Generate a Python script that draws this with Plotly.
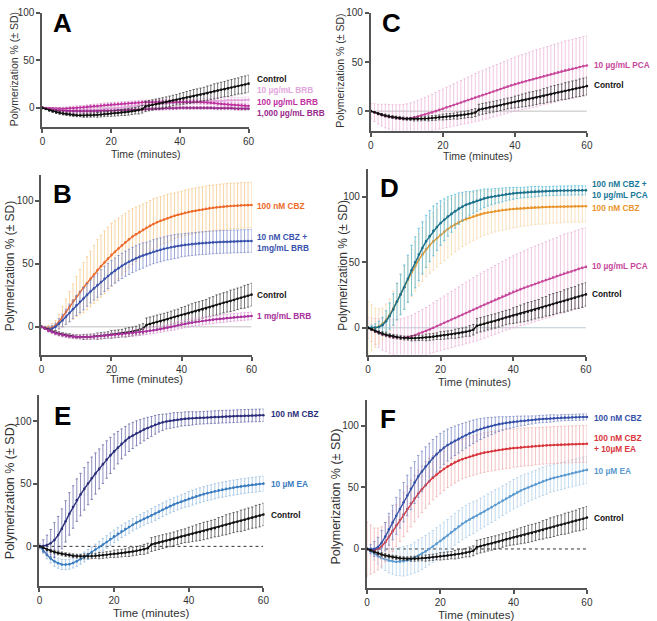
import plotly.graph_objects as go

W, H = 657, 621
FONT = "Arial, Liberation Sans, sans-serif"

# ---------------- data: one reading per minute, 0..60 ----------------
time_min = list(range(0, 61))

control = [0, -1.2, -2.5, -3.6, -4.5, -5.3, -6, -6.6, -7, -7.5,
           -7.8, -7.9, -8, -7.9, -7.8, -7.6, -7.4, -7.1, -6.8, -6.4,
           -6, -5.7, -5.4, -5, -4.6, -4.1, -3.6, -3, -2.4, -1.5,
           1.5, 2.3, 3, 3.8, 4.5, 5.2, 6, 6.9, 7.8, 8.5,
           9.3, 10, 10.8, 11.5, 12.3, 13, 13.8, 14.6, 15.5, 16.4,
           17.3, 18.1, 19, 19.7, 20.5, 21.3, 22.2, 23, 23.8, 24.6,
           25.5]
control_sd = [0, 0.5, 1, 1.2, 1.5, 1.5, 1.5, 1.5, 1.5, 1.5,
              1.5, 1.5, 2, 2, 2, 2, 2.5, 2.5, 2.5, 2.5,
              3, 3, 3, 3, 3.5, 3.5, 3.5, 3.5, 4, 4,
              5.5, 5.5, 5.5, 5.5, 5.5, 5.5, 5.5, 5.5, 5.5, 5.5,
              6, 6.2, 6.5, 6.8, 7, 7, 7, 7, 7.5, 7.5,
              8, 8, 8, 8, 8.5, 8.5, 8.5, 8.5, 9, 9,
              9]

# Panel A (berberine)
brb10 = [0, -0.5, -1, -1.5, -2, -2.3, -2.5, -2.8, -3, -3,
         -3, -3, -3, -2.8, -2.5, -2.3, -2, -1.8, -1.5, -1.3,
         -1, -0.5, 0, 0.5, 1, 1.5, 2, 2.3, 2.5, 2.8,
         3, 3.3, 3.5, 3.8, 4, 4.3, 4.5, 4.8, 5, 5.3,
         5.5, 5.8, 6, 6.3, 6.5, 6.8, 7, 7, 7, 7.3,
         7.5, 7.5, 7.5, 7.8, 8, 8, 8, 8, 8, 8.3,
         8.5]
brb10_sd = [0, 0.5, 1, 1.3, 1.5, 1.8, 2, 2, 2, 2.3,
            2.5, 2.5, 2.5, 2.5, 2.5, 2.8, 3, 3, 3, 3,
            3, 3, 3, 3, 3, 3, 3, 3, 3, 3,
            3, 3, 3, 3, 3, 3, 3, 3, 3, 3,
            3, 3, 3, 3, 3, 3, 3, 3, 3, 3,
            3, 3, 3, 3, 3, 3, 3, 3, 3, 3,
            3]
brb100 = [0, -0.3, -0.5, -0.8, -1, -1, -1, -0.8, -0.5, -0.3,
          0, 0.3, 0.5, 1, 1.5, 1.8, 2, 2.5, 3, 3.3,
          3.5, 3.8, 4, 4.3, 4.5, 4.8, 5, 5.3, 5.5, 5.8,
          6, 6, 6, 6.3, 6.5, 6.5, 6.5, 6.5, 6.5, 6.5,
          6.5, 6.5, 6.5, 6.5, 6.5, 6.3, 6, 5.8, 5.5, 5.3,
          5, 4.5, 4, 3.8, 3.5, 3.3, 3, 2.8, 2.5, 2.3,
          2]
brb100_sd = [0, 0.5, 1, 1.3, 1.5, 1.5, 1.5, 1.8, 2, 2,
             2, 2, 2, 2, 2, 2, 2, 2, 2, 2,
             2, 2, 2, 2, 2, 2, 2, 2, 2, 2,
             2, 2, 2, 2, 2, 2, 2, 2, 2, 2,
             2, 2, 2, 2, 2, 2, 2, 2, 2, 2,
             2, 2, 2, 2, 2, 2, 2, 2, 2, 2,
             2]
brb1000 = [0, -0.8, -1.5, -2, -2.5, -2.8, -3, -3.3, -3.5, -3.5,
           -3.5, -3.5, -3.5, -3.5, -3.5, -3.5, -3.5, -3.3, -3, -3,
           -3, -2.8, -2.5, -2.5, -2.5, -2.3, -2, -2, -2, -1.8,
           -1.5, -1.3, -1, -1, -1, -0.8, -0.5, -0.5, -0.5, -0.3,
           0, 0, 0, 0, 0, 0, 0, 0, 0, 0,
           -0.3, -0.5, -0.5, -0.5, -0.5, -0.5, -0.8, -1, -1, -1,
           -1]
brb1000_sd = [0, 0.5, 1, 1.3, 1.5, 1.5, 1.5, 1.5, 1.5, 1.5,
              1.5, 1.5, 1.5, 1.5, 1.5, 1.5, 1.5, 1.5, 1.5, 1.5,
              1.5, 1.5, 1.5, 1.5, 1.5, 1.5, 1.5, 1.5, 1.5, 1.5,
              1.5, 1.5, 1.5, 1.5, 1.5, 1.5, 1.5, 1.5, 1.5, 1.5,
              1.5, 1.5, 1.5, 1.5, 1.5, 1.5, 1.5, 1.5, 1.5, 1.5,
              1.5, 1.5, 1.5, 1.5, 1.5, 1.5, 1.5, 1.5, 1.5, 1.5,
              1.5]

# Panel B
cbz100_b = [0, -0.5, -1, -0.5, 1, 4, 8, 12, 16, 20,
            24, 27.5, 31, 34.5, 38, 41.5, 45, 48, 51, 54,
            57, 59.5, 62, 64.5, 67, 69.3, 71.5, 73.3, 75, 76.8,
            78.5, 80, 81.5, 82.8, 84, 85, 86, 87, 88, 88.8,
            89.5, 90.3, 91, 91.5, 92, 92.5, 93, 93.5, 94, 94.3,
            94.6, 94.9, 95.2, 95.5, 95.7, 95.9, 96, 96.2, 96.3, 96.4,
            96.5]
cbz100_b_sd = [0, 1, 2, 3, 4, 6, 8, 10, 12, 14,
               16, 18, 20, 21, 22, 23, 24, 24.5, 25, 25,
               25, 24.5, 24, 23.5, 23, 22.5, 22, 21.5, 21, 20.5,
               20, 20, 20, 19.5, 19, 19, 19, 18.5, 18, 18,
               18, 18, 18, 18, 18, 18, 18, 18, 18, 18,
               18, 18, 18, 18, 18, 18, 18, 18, 18, 18,
               18]
cbz10_brb = [0, -1, -2, -1.5, 0, 2.5, 5, 8, 11, 14,
             17, 19.8, 22.5, 25.3, 28, 30.5, 33, 35.5, 38, 40.3,
             42.5, 44.5, 46.5, 48.3, 50, 51.5, 53, 54.3, 55.5, 56.5,
             57.5, 58.5, 59.5, 60.3, 61, 61.8, 62.5, 63, 63.5, 64,
             64.5, 64.9, 65.2, 65.5, 65.8, 66.1, 66.3, 66.5, 66.7, 66.9,
             67, 67.2, 67.3, 67.4, 67.5, 67.6, 67.7, 67.8, 67.9, 68,
             68]
cbz10_brb_sd = [0, 1, 2, 2.5, 3, 4, 5, 6, 7, 7.5,
                8, 8.5, 9, 9, 9, 9.3, 9.5, 9.8, 10, 10,
                10, 10, 10, 10, 10, 10, 10, 10, 10, 10,
                9.5, 9.5, 9.5, 9.5, 9.5, 9.5, 9.5, 9.5, 9.5, 9.5,
                9, 9, 9, 9, 9, 9, 9, 9, 9, 9,
                9, 9, 9, 9, 9, 9, 9, 9, 9, 9,
                9]
brb1mg = [0, -1.5, -3, -4, -5, -5.8, -6.5, -7, -7.5, -7.8,
          -8, -8, -8, -8, -8, -7.8, -7.5, -7.3, -7, -6.8,
          -6.5, -6.3, -6, -5.8, -5.5, -5.3, -5, -4.7, -4.3, -4,
          -3.6, -3.2, -2.8, -2.3, -1.8, -1.3, -0.8, -0.2, 0.5, 1.2,
          1.8, 2.3, 2.8, 3.3, 3.8, 4.2, 4.6, 5, 5.3, 5.7,
          6, 6.3, 6.6, 6.9, 7.2, 7.5, 7.7, 8, 8.2, 8.4,
          8.6]
brb1mg_sd = [0, 0.5, 1, 1.3, 1.5, 1.5, 1.5, 1.5, 1.5, 1.5,
             1.5, 1.5, 1.5, 1.8, 2, 2, 2, 2, 2, 2,
             2, 2, 2, 2, 2, 2, 2.5, 2.5, 2.5, 2.5,
             2.5, 2.5, 2.5, 2.5, 2.5, 2.5, 2.5, 2.8, 3, 3,
             3, 3, 3, 3, 3, 3, 3, 3, 3, 3,
             3, 3, 3, 3, 3, 3, 3, 3, 3, 3,
             3]

# Panels C / D
pca10 = [0, -1.5, -3, -4, -5, -5.8, -6.5, -7, -7.5, -7.6,
         -7.5, -7.1, -6.5, -5.5, -4.5, -3.5, -2.5, -1.3, 0, 1.3,
         2.5, 3.8, 5, 6.3, 7.5, 8.8, 10, 11.3, 12.5, 13.8,
         15, 16.3, 17.5, 18.8, 20, 21.3, 22.5, 23.8, 25, 26.3,
         27.5, 28.5, 29.5, 30.5, 31.5, 32.5, 33.5, 34.5, 35.5, 36.5,
         37.5, 38.5, 39.5, 40.5, 41.5, 42.3, 43, 44, 45, 45.8,
         46.5]
pca10_sd = [8, 9, 10, 11, 12, 12.5, 13, 13.5, 14, 14.5,
            15, 15.5, 16, 16.5, 17, 17.5, 18, 18.5, 19, 19.5,
            20, 20.5, 21, 21.5, 22, 22.5, 23, 23.5, 24, 24.5,
            25, 25.3, 25.5, 25.8, 26, 26.3, 26.5, 26.8, 27, 27.3,
            27.5, 27.8, 28, 28.3, 28.5, 28.8, 29, 29, 29, 29.3,
            29.5, 29.5, 29.5, 29.8, 30, 30, 30, 30, 30, 30,
            30]
cbz100_d = [0, 0, 0, 1, 3, 6, 10, 15, 20, 25.5,
            31, 36.5, 42, 47, 52, 56, 60, 63, 66, 68.5,
            71, 73.3, 75.5, 77.3, 79, 80.5, 82, 83, 84, 85,
            86, 86.8, 87.5, 88, 88.5, 89, 89.5, 89.9, 90.2, 90.5,
            90.8, 91, 91.2, 91.4, 91.6, 91.8, 92, 92.1, 92.2, 92.3,
            92.4, 92.5, 92.5, 92.6, 92.6, 92.7, 92.7, 92.8, 92.8, 92.8,
            92.8]
cbz100_d_sd = [20, 17.5, 15, 13.5, 12, 12, 12, 13, 14, 15,
               16, 17, 18, 19, 20, 20.5, 21, 21.5, 22, 22,
               22, 22, 22, 21.5, 21, 20.5, 20, 19.5, 19, 18.5,
               18, 17.5, 17, 16.5, 16, 15.8, 15.5, 15.3, 15, 14.8,
               14.5, 14.3, 14, 13.8, 13.5, 13.3, 13, 13, 13, 13,
               12.5, 12.5, 12.5, 12.5, 12, 12, 12, 12, 12, 12,
               12]
cbz_pca = [0, 0, 0, 0.5, 2, 5, 9, 14, 20, 25.5,
           31, 37.5, 44, 50, 56, 61, 66, 70, 74, 77,
           80, 82.5, 85, 87, 89, 91, 92.5, 94, 95, 96,
           97, 98, 99, 99.5, 100, 100.5, 101, 101.5, 102, 102.4,
           102.7, 103, 103.2, 103.4, 103.6, 103.8, 104, 104.2, 104.3, 104.4,
           104.5, 104.6, 104.7, 104.8, 104.8, 104.9, 104.9, 105, 105, 105,
           105]
cbz_pca_sd = [1, 2, 3, 4.5, 6, 8, 10, 12, 14, 15.5,
              17, 18, 19, 19.5, 20, 20, 20, 19.5, 19, 18,
              17, 16, 15, 14, 13, 12, 11, 10, 9, 8.5,
              8, 7.5, 7, 6.5, 6, 5.8, 5.5, 5.3, 5, 4.8,
              4.5, 4.3, 4, 4, 4, 4, 4, 3.8, 3.5, 3.5,
              3.5, 3.5, 3.5, 3.5, 3.5, 3.5, 3.5, 3.5, 3.5, 3.5,
              3.5]

# Panel E
cbz100_e = [0, 0.3, 1, 2.5, 5, 9, 14, 20, 26, 31.5,
            37, 41.5, 46, 50.3, 54.5, 58.3, 62, 65.8, 69.5, 72.8,
            76, 79, 82, 84.5, 87, 88.8, 90.5, 92, 93.5, 94.8,
            96, 97.3, 98.5, 99.3, 100, 100.5, 101, 101.4, 101.8, 102.1,
            102.3, 102.5, 102.7, 102.9, 103, 103.2, 103.3, 103.5, 103.6, 103.8,
            103.9, 104, 104.1, 104.3, 104.4, 104.5, 104.6, 104.7, 104.8, 104.9,
            105]
cbz100_e_sd = [2, 5, 8, 11, 14, 15, 16, 16.5, 17, 17,
               17, 17, 17, 17, 17, 16.5, 16, 15.5, 15, 14.5,
               14, 13, 12, 11.5, 11, 10.5, 10, 9.5, 9, 8.5,
               8, 7.5, 7, 6.5, 6, 6, 6, 5.8, 5.5, 5.5,
               5.5, 5.3, 5, 5, 5, 5, 5, 5, 5, 5,
               5, 5, 5, 5, 5, 5, 5, 5, 5, 5,
               5]
ea10_e = [0, -3.5, -7, -9.8, -12, -13.5, -14.5, -14.6, -14.3, -13.3,
          -12, -10.3, -8.5, -6.5, -4.5, -2.5, -0.5, 1.5, 3.5, 5.8,
          8, 10, 12, 13.8, 15.5, 17.3, 19, 20.5, 22, 23.4,
          24.8, 26.3, 27.8, 29.3, 30.8, 32.2, 33.5, 34.7, 35.8, 36.9,
          38, 39, 40, 40.9, 41.8, 42.6, 43.3, 44.1, 44.8, 45.4,
          46, 46.5, 47, 47.5, 48, 48.4, 48.8, 49.2, 49.5, 49.9,
          50.2]
ea10_e_sd = [1, 2, 3, 3.5, 4, 4, 4, 4, 4, 4,
             4, 4, 4, 4, 4, 4.3, 4.5, 4.8, 5, 5,
             5, 5, 5, 5, 5, 5, 5, 5, 5, 5,
             5.5, 5.5, 5.5, 5.5, 5.5, 5.5, 5.5, 5.5, 5.5, 5.5,
             6, 6, 6, 6, 6, 6, 6, 6, 6, 6,
             6, 6, 6, 6, 6, 6, 6, 6, 6, 6,
             6]

# Panel F
cbz100_f = [0, 0, 0, 1.5, 5, 10, 16, 21.5, 27, 32.5,
            38, 43.5, 49, 54, 59, 63, 67, 70.5, 74, 77,
            80, 82.3, 84.5, 86.3, 88, 89.5, 91, 92.5, 94, 95.3,
            96.5, 97.5, 98.5, 99.3, 100, 100.8, 101.5, 102, 102.5, 102.9,
            103.3, 103.7, 104, 104.3, 104.6, 104.9, 105.2, 105.5, 105.7, 105.9,
            106.1, 106.3, 106.5, 106.7, 106.8, 106.9, 107, 107.1, 107.2, 107.3,
            107.3]
cbz100_f_sd = [1, 3.5, 6, 8, 10, 11.5, 13, 14, 15, 15.5,
               16, 16.5, 17, 17, 17, 16.5, 16, 15.5, 15, 14.5,
               14, 13.5, 13, 12.5, 12, 11.5, 11, 10.5, 10, 9.5,
               9, 8.5, 8, 7.5, 7, 6.5, 6, 5.5, 5, 4.8,
               4.5, 4.3, 4, 3.8, 3.5, 3.3, 3, 3, 3, 3,
               3, 2.8, 2.5, 2.5, 2.5, 2.5, 2.5, 2.5, 2.5, 2.5,
               2.5]
cbz_ea = [0, -0.5, -1, 0, 2, 5.5, 10, 14.5, 19, 23.5,
          28, 32.5, 37, 41, 45, 48.5, 52, 55, 58, 60.5,
          63, 65, 67, 68.8, 70.5, 71.8, 73, 74, 75, 75.9,
          76.8, 77.6, 78.3, 78.9, 79.5, 80, 80.5, 80.9, 81.3, 81.7,
          82, 82.3, 82.6, 82.9, 83.1, 83.4, 83.6, 83.8, 84, 84.2,
          84.3, 84.5, 84.6, 84.8, 84.9, 85, 85.1, 85.2, 85.3, 85.4,
          85.5]
cbz_ea_sd = [22, 20, 18, 17, 16, 16, 16, 16.5, 17, 17.5,
             18, 18.5, 19, 19, 19, 19, 19, 18.5, 18, 18,
             18, 17.5, 17, 17, 17, 16.5, 16, 16, 16, 16,
             16, 16, 16, 16, 16, 16, 16, 16, 16, 16,
             15.5, 15.5, 15.5, 15.5, 15.5, 15.5, 15, 15, 15, 15,
             15, 15, 15, 15, 15, 15, 15, 15, 15, 15,
             15]
ea10_f = [0, -2, -4, -5.8, -7.5, -8.5, -9.5, -10, -10.5, -10.3,
          -10, -9.3, -8.5, -7, -5.5, -3.8, -2, 0, 2, 4.3,
          6.5, 8.8, 11, 13.5, 16, 18.3, 20.5, 22.3, 24, 25.5,
          27, 28.8, 30.5, 32.3, 34, 35.8, 37.5, 39.3, 41, 42.8,
          44.5, 46, 47.5, 48.8, 50, 51.3, 52.5, 53.8, 55, 56,
          57, 57.8, 58.5, 59.3, 60, 60.8, 61.5, 62.3, 63, 63.7,
          64.3]
ea10_f_sd = [1, 3, 5, 6.5, 8, 9, 10, 10.5, 11, 11.5,
             12, 12, 12, 12.5, 13, 13, 13, 13, 13, 13,
             13, 13, 13, 13, 13, 13, 13, 13, 13, 13,
             12.5, 12.5, 12.5, 12.5, 12.5, 12.5, 12, 12, 12, 12,
             12, 12, 12, 12, 11.5, 11.5, 11.5, 11.5, 11.5, 11.5,
             11, 11, 11, 11, 11, 11, 11, 11, 11, 11,
             11]

x_ticks = [0, 20, 40, 60]
y_ticks = [0, 50, 100]

# ---------------- layout geometry (pixels) ----------------
panels = {
    "A": ("", 40, 249, 7, 122, [-20, 100]),
    "C": ("2", 373, 592, 7, 126, [-20, 100]),
    "B": ("3", 39, 252, 171, 352, [-22, 120]),
    "D": ("4", 370, 591, 165, 352, [-20.5, 121]),
    "E": ("5", 37, 264, 393, 586, [-32, 121]),
    "F": ("6", 369, 592, 398, 588, [-32, 121]),
}

fig = go.Figure()


def add_series(panel, y, sd, color, ecolor, msize=2.6, lw=1.4):
    suf = panels[panel][0]
    fig.add_trace(go.Scatter(
        x=time_min, y=y, mode="lines+markers",
        xaxis="x" + suf, yaxis="y" + suf,
        line=dict(color=color, width=lw),
        marker=dict(color=color, size=msize),
        error_y=dict(type="data", array=sd, color=ecolor, thickness=0.7, width=1.2),
        showlegend=False, hoverinfo="skip", cliponaxis=False,
    ))


CTRL, CTRL_E = "#111111", "#3a3a3a"

add_series("A", brb10, brb10_sd, "#e2a6dc", "#eec6ea")
add_series("A", brb100, brb100_sd, "#c0309f", "#d890cc")
add_series("A", brb1000, brb1000_sd, "#9a2a8c", "#c486bc")
add_series("A", control, control_sd, CTRL, CTRL_E)

add_series("C", pca10, pca10_sd, "#c8489c", "#eab0d8")
add_series("C", control, control_sd, CTRL, CTRL_E)

add_series("B", cbz100_b, cbz100_b_sd, "#ee6a2a", "#f6c47e")
add_series("B", cbz10_brb, cbz10_brb_sd, "#3a52ac", "#7282c8")
add_series("B", control, control_sd, CTRL, CTRL_E)
add_series("B", brb1mg, brb1mg_sd, "#a8309c", "#d890d0")

add_series("D", pca10, pca10_sd, "#c8489c", "#eab0d8")
add_series("D", cbz100_d, cbz100_d_sd, "#e8952c", "#f6d4a4")
add_series("D", cbz_pca, cbz_pca_sd, "#1a6f8a", "#48b4d4")
add_series("D", control, control_sd, CTRL, CTRL_E)

add_series("E", ea10_e, ea10_e_sd, "#3a7cc0", "#90b8e0")
add_series("E", cbz100_e, cbz100_e_sd, "#2b2d7a", "#5a5ca0")
add_series("E", control, control_sd, CTRL, CTRL_E)

add_series("F", ea10_f, ea10_f_sd, "#5a9ad0", "#aacce8")
add_series("F", cbz_ea, cbz_ea_sd, "#d8343c", "#eeaaaa")
add_series("F", cbz100_f, cbz100_f_sd, "#3450a8", "#7080c0")
add_series("F", control, control_sd, CTRL, CTRL_E)

layout = dict(
    width=W, height=H, margin=dict(l=0, r=0, t=0, b=0),
    paper_bgcolor="white", plot_bgcolor="white",
    font=dict(family=FONT, size=10, color="#333333"),
    showlegend=False,
)
axis_common = dict(showline=True, linecolor="#555555", linewidth=2, showgrid=False,
                   zeroline=False, ticks="outside", ticklen=4, tickwidth=1.5,
                   tickcolor="#555555", tickfont=dict(family=FONT, size=10, color="#333333"))

shapes = []
annotations = []
for name, (suf, x0, x1, yt, yb, yr) in panels.items():
    layout["xaxis" + suf] = dict(axis_common, domain=[x0 / W, x1 / W], range=[0, 60],
                                 tickvals=x_ticks, anchor="y" + suf)
    layout["yaxis" + suf] = dict(axis_common, domain=[1 - yb / H, 1 - yt / H], range=yr,
                                 tickvals=y_ticks, anchor="x" + suf)
    dotted = name in ("E", "F")
    shapes.append(dict(type="line", xref="x" + suf, yref="y" + suf, x0=0, x1=60, y0=0, y1=0,
                       layer="below",
                       line=dict(color="#333333" if dotted else ("#b8ccd4" if name == "D" else "#c0c0c0"),
                                 width=1, dash="dot" if dotted else "solid")))
layout["shapes"] = shapes

for txt, px, py in [("A", 60, 17), ("B", 60, 190), ("C", 394, 17),
                    ("D", 392, 184), ("E", 60, 414), ("F", 390, 417)]:
    annotations.append(dict(text="<b>%s</b>" % txt, x=px / W, y=1 - py / H, xref="paper", yref="paper",
                            showarrow=False, xanchor="center", yanchor="middle",
                            font=dict(family=FONT, size=26, color="black")))

YT = "Polymerization % (± SD)"
for px, py, fs in [(12, 64, 10.5), (342, 65, 10.5), (8, 262, 12), (345, 262, 12),
                   (7, 490, 12.5), (338, 495, 12.5)]:
    annotations.append(dict(text=YT, x=px / W, y=1 - py / H, xref="paper", yref="paper",
                            textangle=-90, showarrow=False, xanchor="center", yanchor="middle",
                            font=dict(family=FONT, size=fs, color="#333333")))
for px, py, fs in [(145, 149, 10.5), (482, 151, 10.5), (145, 377, 11), (478, 380, 11),
                   (150, 613, 11.5), (480, 615, 11.5)]:
    annotations.append(dict(text="Time (minutes)", x=px / W, y=1 - py / H, xref="paper", yref="paper",
                            showarrow=False, xanchor="center", yanchor="middle",
                            font=dict(family=FONT, size=fs, color="#333333")))

labels = [
    ("A", "Control", 30, "#111111", 6),
    ("A", "10 µg/mL BRB", 18.6, "#e2a6dc", 6),
    ("A", "100 µg/mL BRB", 6, "#c0309f", 6),
    ("A", "1,000 µg/mL BRB", -5.4, "#9a2a8c", 6),
    ("C", "10 µg/mL PCA", 47.4, "#c8489c", 5),
    ("C", "Control", 26.2, "#111111", 5),
    ("B", "100 nM CBZ", 95.7, "#ee6a2a", 3),
    ("B", "10 nM CBZ +<br>1mg/mL BRB", 67, "#3a52ac", 3),
    ("B", "Control", 25, "#111111", 3),
    ("B", "1 mg/mL BRB", 8.6, "#a8309c", 3),
    ("D", "100 nM CBZ +<br>10 µg/mL PCA", 105.7, "#1a7898", 4),
    ("D", "100 nM CBZ", 91.7, "#e8952c", 4),
    ("D", "10 µg/mL PCA", 47, "#c8489c", 4),
    ("D", "Control", 25.8, "#111111", 4),
    ("E", "100 nM CBZ", 106, "#2b2d7a", 6),
    ("E", "10 µM EA", 49.6, "#3a7cc0", 6),
    ("E", "Control", 25, "#111111", 6),
    ("F", "100 nM CBZ", 106.5, "#3450a8", 5),
    ("F", "100 nM CBZ<br>+ 10µM EA", 86, "#d8343c", 5),
    ("F", "10 µM EA", 63.8, "#5a9ad0", 5),
    ("F", "Control", 25.2, "#111111", 5),
]
for panel, txt, yv, col, shift in labels:
    suf = panels[panel][0]
    annotations.append(dict(text="<b>%s</b>" % txt, x=60, y=yv, xref="x" + suf, yref="y" + suf,
                            xshift=shift, showarrow=False, xanchor="left", yanchor="middle",
                            align="left", font=dict(family=FONT, size=8.3, color=col)))

layout["annotations"] = annotations
fig.update_layout(**layout)
fig.write_html("out.html", config={"displayModeBar": False},
               post_script="document.body.style.margin='0';document.body.style.overflow='hidden';")
